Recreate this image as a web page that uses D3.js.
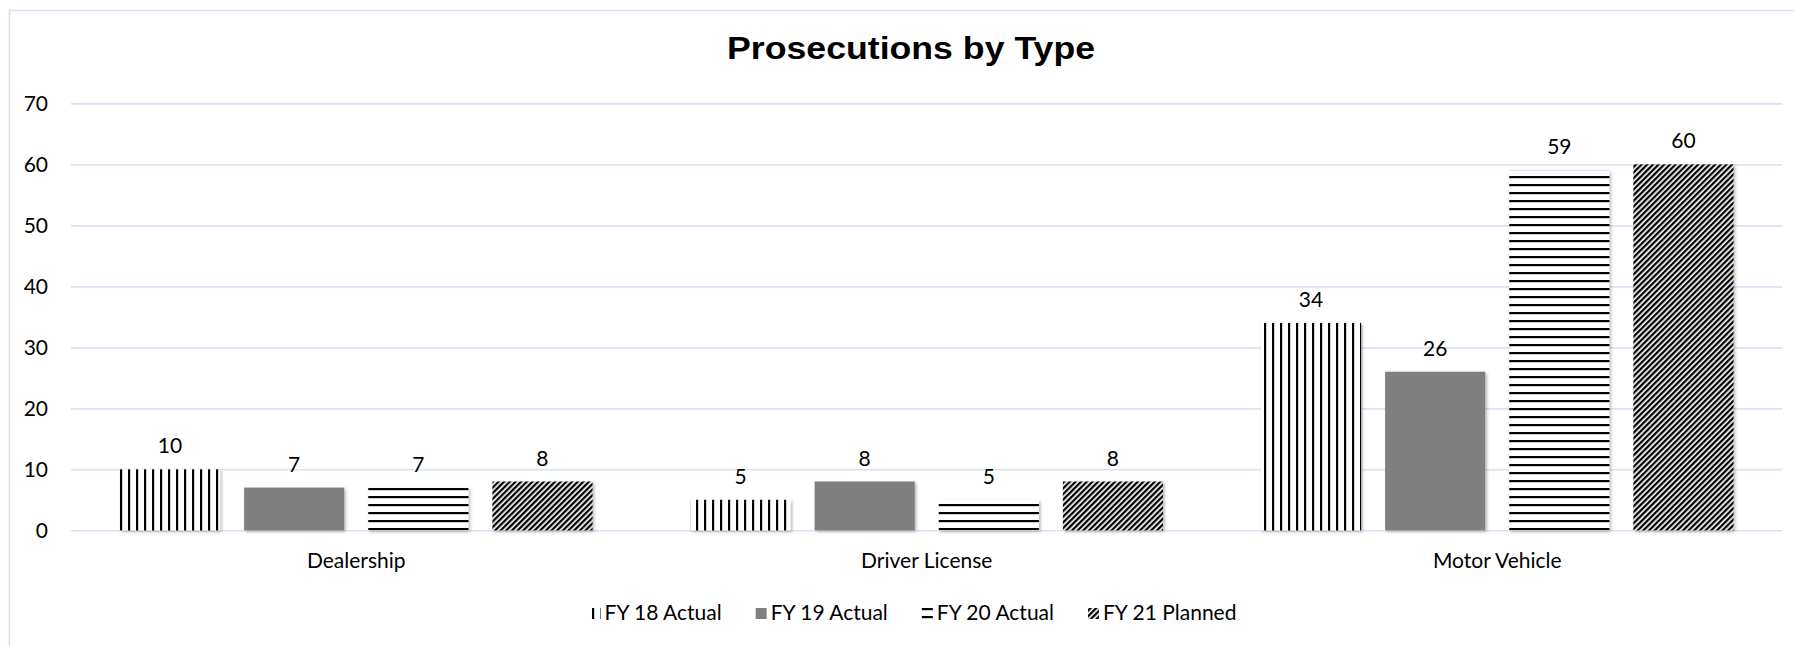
<!DOCTYPE html>
<html>
<head>
<meta charset="utf-8">
<script src="https://cdn.jsdelivr.net/npm/d3@7"></script>
<style>
  html, body { margin: 0; padding: 0; background: #fff; }
  svg { display: block; }
  text { font-family: Lato, "Open Sans", sans-serif; fill: #000; }
</style>
</head>
<body>
<svg id="chart" width="1794" height="646"></svg>
<script>
// ---- data ----
const categories = ["Dealership", "Driver License", "Motor Vehicle"];
const seriesNames = ["FY 18 Actual", "FY 19 Actual", "FY 20 Actual", "FY 21 Planned"];
const fy18 = [10, 5, 34];
const fy19 = [7, 8, 26];
const fy20 = [7, 5, 59];
const fy21 = [8, 8, 60];
const yTicks = [0, 10, 20, 30, 40, 50, 60, 70];
const title = "Prosecutions by Type";

const seriesValues = [fy18, fy19, fy20, fy21];

// ---- layout ----
const W = 1794, H = 646;
const plot = { left: 71, right: 1782.5, top: 103.4, bottom: 530.3 };
const svg = d3.select("#chart");
const defs = svg.append("defs");

// patterns
const pVert = defs.append("pattern").attr("id", "pVert")
  .attr("patternUnits", "userSpaceOnUse").attr("width", 8).attr("height", 8);
pVert.append("rect").attr("width", 8).attr("height", 8).attr("fill", "#fff");
pVert.append("rect").attr("x", 0).attr("width", 2.2).attr("height", 8).attr("fill", "#000");

const pHorz = defs.append("pattern").attr("id", "pHorz")
  .attr("patternUnits", "userSpaceOnUse").attr("width", 8).attr("height", 8);
pHorz.append("rect").attr("width", 8).attr("height", 8).attr("fill", "#fff");
pHorz.append("rect").attr("y", 0).attr("width", 8).attr("height", 2.2).attr("fill", "#000");

const pDiag = defs.append("pattern").attr("id", "pDiag")
  .attr("patternUnits", "userSpaceOnUse").attr("width", 4).attr("height", 4)
  .attr("patternTransform", "rotate(45)");
pDiag.append("rect").attr("width", 4).attr("height", 4).attr("fill", "#fff");
pDiag.append("rect").attr("x", 0).attr("width", 2.3).attr("height", 4).attr("fill", "#000");

const fills = ["url(#pVert)", "#7f7f7f", "url(#pHorz)", "url(#pDiag)"];

const shadow = defs.append("filter").attr("id", "shadow")
  .attr("x", "-10%").attr("y", "-10%").attr("width", "130%").attr("height", "130%");
shadow.append("feDropShadow").attr("dx", 1.5).attr("dy", 1.5)
  .attr("stdDeviation", 1.5).attr("flood-color", "#000").attr("flood-opacity", 0.3);

// chart-area border (cropped on right & bottom)
svg.append("rect").attr("x", 9.5).attr("y", 10.5)
  .attr("width", W + 20).attr("height", H + 20)
  .attr("fill", "none").attr("stroke", "#d6e0f2").attr("stroke-width", 1.6);

// title
svg.append("text").attr("x", 911).attr("y", 59)
  .attr("text-anchor", "middle")
  .style("font-family", "'Liberation Sans', Arial, sans-serif")
  .style("font-weight", "bold").style("font-size", "32px")
  .attr("textLength", 368).attr("lengthAdjust", "spacingAndGlyphs")
  .text(title);

// scales
const y = d3.scaleLinear().domain([0, 70]).range([plot.bottom, plot.top]);
const x0 = d3.scaleBand().domain(categories).range([plot.left, plot.right])
  .paddingInner(0).paddingOuter(0);
const groupPad = 49;
const x1 = d3.scaleBand().domain(seriesNames)
  .range([groupPad, x0.bandwidth() - groupPad])
  .paddingInner(24 / 124).paddingOuter(0);

// gridlines via axis
const yAxis = d3.axisLeft(y).tickValues(yTicks)
  .tickSize(-(plot.right - plot.left)).tickPadding(23).tickFormat(d3.format("d"));
const gy = svg.append("g").attr("transform", `translate(${plot.left},0)`).call(yAxis);
gy.select(".domain").remove();
gy.selectAll(".tick line").attr("stroke", "#d9e2f3").attr("stroke-width", 1.6);
gy.selectAll(".tick text").style("font-size", "21px").attr("fill", "#000")
  .style("font-family", "Lato, sans-serif");

// bars
const data = [];
categories.forEach((c, ci) => {
  seriesNames.forEach((s, si) => {
    data.push({ cat: c, series: s, si, value: seriesValues[si][ci] });
  });
});

const gBars = svg.append("g");
gBars.selectAll("rect").data(data).enter().append("rect")
  .attr("x", d => x0(d.cat) + x1(d.series))
  .attr("y", d => y(d.value))
  .attr("width", x1.bandwidth())
  .attr("height", d => y(0) - y(d.value))
  .attr("fill", d => fills[d.si])
  .attr("filter", "url(#shadow)");

// data labels
svg.append("g").selectAll("text").data(data).enter().append("text")
  .attr("x", d => x0(d.cat) + x1(d.series) + x1.bandwidth() / 2)
  .attr("y", d => y(d.value) - 16)
  .attr("text-anchor", "middle")
  .style("font-size", "21px")
  .text(d => d.value);

// category axis labels
const xAxis = d3.axisBottom(x0).tickSize(0).tickPadding(0);
const gx = svg.append("g").attr("transform", `translate(0,${plot.bottom})`).call(xAxis);
gx.select(".domain").remove();
gx.selectAll(".tick text").attr("y", 38).attr("dy", 0)
  .style("font-size", "21px").style("font-family", "Lato, sans-serif").attr("fill", "#000");

// legend
const legend = svg.append("g");
const sw = 11, swGap = 4, itemGap = 34;
const items = legend.selectAll("g").data(seriesNames).enter().append("g");
items.append("rect").attr("class", "sw")
  .attr("y", 608).attr("width", sw).attr("height", sw)
  .attr("fill", (d, i) => fills[i]);
items.append("text").attr("y", 620).style("font-size", "21px").text(d => d);
let cx = 0;
const widths = [];
items.each(function () {
  const tw = d3.select(this).select("text").node().getComputedTextLength();
  widths.push(tw);
});
const total = widths.reduce((a, w) => a + sw + swGap + w, 0) + itemGap * (widths.length - 1);
cx = 913 - total / 2;
items.each(function (d, i) {
  const g = d3.select(this);
  g.select("rect").attr("x", cx);
  g.select("text").attr("x", cx + sw + swGap);
  cx += sw + swGap + widths[i] + itemGap;
});
</script>
</body>
</html>
